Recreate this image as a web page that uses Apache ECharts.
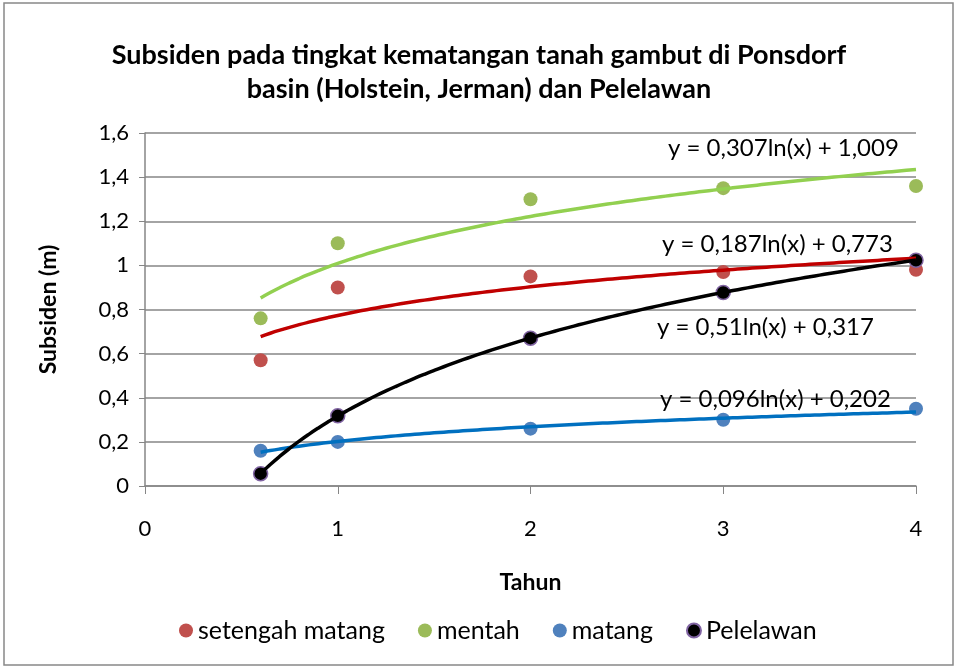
<!DOCTYPE html>
<html>
<head>
<meta charset="utf-8">
<script src="https://cdn.jsdelivr.net/npm/echarts@6/dist/echarts.min.js"></script>
<style>
  html, body { margin: 0; padding: 0; background: #fff; }
  #chart { width: 958px; height: 669px; }
</style>
</head>
<body>
<div id="chart"></div>
<script>
// data
const tahun = [0.6, 1, 2, 3, 4]
const setengahMatang = [0.57, 0.90, 0.95, 0.97, 0.98]
const mentah = [0.76, 1.10, 1.30, 1.35, 1.36]
const matang = [0.16, 0.20, 0.26, 0.30, 0.35]
const pelelawan = [0.056, 0.318, 0.67, 0.877, 1.023]

// trendline coefficients as printed on the chart: y = a ln(x) + b
const trendSetengah = [0.187, 0.773]
const trendMentah = [0.307, 1.009]
const trendMatang = [0.096, 0.202]
const trendPelelawan = [0.51, 0.317]

const yTicks = [0, 0.2, 0.4, 0.6, 0.8, 1, 1.2, 1.4, 1.6]

const font = 'Lato, sans-serif'

function pts(ys) {
  return tahun.map((x, i) => [x, ys[i]])
}
// log trendline evaluated across the data range
function trend(c) {
  let out = []
  for (let x = tahun[0]; x <= tahun[tahun.length - 1] + 1e-9; x += 0.05) {
    out.push([x, c[0] * Math.log(x) + c[1]])
  }
  return out
}
function fmt(v) {
  return String(v).replace('.', ',')
}

let mychart = echarts.init(document.getElementById('chart'))

let scatter = (name, ys, color, border) => ({
  name: name,
  type: 'scatter',
  data: pts(ys),
  symbolSize: 14,
  itemStyle: {
    color: color,
    borderColor: border || color,
    borderWidth: border ? 1.5 : 0,
    opacity: 1,
  },
  z: 2,
})
let line = (c, color) => ({
  type: 'line',
  data: trend(c),
  showSymbol: false,
  smooth: true,
  lineStyle: { color: color, width: 3.5 },
  silent: true,
  z: 3,
})
let eq = (text, x, y) => ({
  type: 'text',
  x: x,
  y: y,
  style: { text: text, fontSize: 24, fill: '#000', fontFamily: font, verticalAlign: 'middle' },
  z: 10,
})

let option = {
  animation: false,
  textStyle: { fontFamily: font },
  title: {
    text: 'Subsiden pada tingkat kematangan tanah gambut di Ponsdorf\nbasin (Holstein, Jerman) dan Pelelawan',
    left: 'center',
    top: 33,
    textStyle: { fontSize: 27, fontWeight: 'bold', color: '#000', lineHeight: 34, fontFamily: font },
  },
  grid: { left: 145, right: 42, top: 133, bottom: 183 },
  legend: {
    bottom: 21,
    left: 174,
    itemGap: 33,
    itemWidth: 14,
    itemHeight: 14,
    icon: 'circle',
    textStyle: { fontSize: 25, color: '#000', fontFamily: font },
    data: ['setengah matang', 'mentah', 'matang', 'Pelelawan'],
  },
  xAxis: {
    type: 'value',
    min: 0,
    max: 4,
    interval: 1,
    name: 'Tahun',
    nameLocation: 'middle',
    nameGap: 85,
    nameTextStyle: { fontSize: 23, fontWeight: 'bold', color: '#000' },
    axisLine: { show: true, lineStyle: { color: '#868686', width: 1.5 } },
    axisTick: { show: true, length: 8, lineStyle: { color: '#868686' } },
    axisLabel: { fontSize: 22, color: '#000', margin: 32 },
    splitLine: { show: false },
  },
  yAxis: {
    type: 'value',
    min: yTicks[0],
    max: yTicks[yTicks.length - 1],
    interval: 0.2,
    name: 'Subsiden (m)',
    nameLocation: 'middle',
    nameGap: 85,
    nameTextStyle: { fontSize: 23, fontWeight: 'bold', color: '#000' },
    axisLine: { show: true, lineStyle: { color: '#868686', width: 1.5 } },
    axisTick: { show: true, length: 6, lineStyle: { color: '#868686' } },
    axisLabel: { fontSize: 22, color: '#000', margin: 16, formatter: (v) => fmt(+v.toFixed(1)) },
    splitLine: { show: true, lineStyle: { color: '#868686', width: 1.5 } },
  },
  graphic: [
    {
      type: 'rect',
      shape: { x: 4, y: 3, width: 949, height: 662 },
      style: { fill: 'none', stroke: '#888', lineWidth: 1.5 },
      silent: true,
    },
    eq('y = 0,307ln(x) + 1,009', 668, 148),
    eq('y = 0,187ln(x) + 0,773', 662, 244),
    eq('y = 0,51ln(x) + 0,317', 657, 327),
    eq('y = 0,096ln(x) + 0,202', 660, 399),
  ],
  series: [
    scatter('setengah matang', setengahMatang, '#C0504D'),
    scatter('mentah', mentah, '#9BBB59'),
    scatter('matang', matang, '#4F81BD'),
    scatter('Pelelawan', pelelawan, '#000000', '#8064A2'),
    line(trendMentah, '#92D050'),
    line(trendSetengah, '#C00000'),
    line(trendMatang, '#0070C0'),
    line(trendPelelawan, '#000000'),
  ],
}

mychart.setOption(option)
</script>
</body>
</html>
